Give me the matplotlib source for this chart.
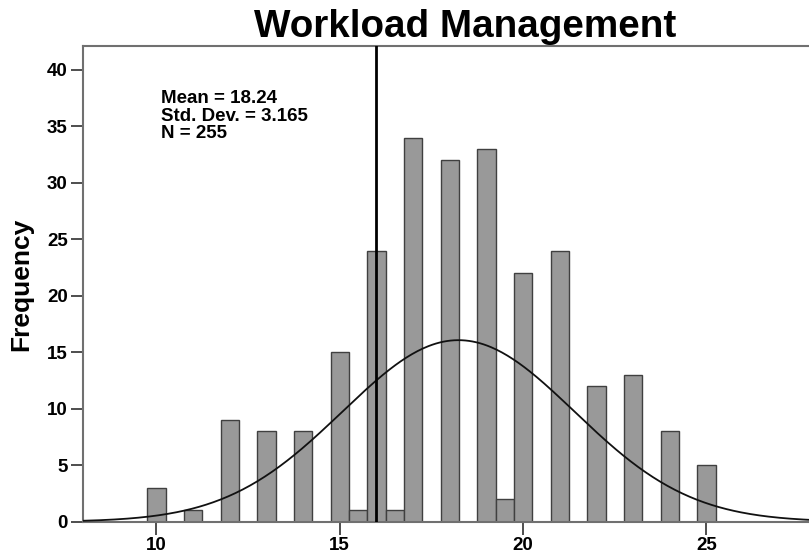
import numpy as np
from matplotlib import pyplot as plt

plt.rcParams['font.family'] = ['Liberation Sans', 'DejaVu Sans']

# histogram bins (centre value, bin width 0.5) and counts
bin_centers = [10, 11, 12, 13, 14, 15, 15.5, 16, 16.5, 17, 18, 19, 19.5, 20, 21, 22, 23, 24, 25]
counts = [3, 1, 9, 8, 8, 15, 1, 24, 1, 34, 32, 33, 2, 22, 24, 12, 13, 8, 5]
bin_width = 0.5

# summary statistics shown on the chart
mean = 18.24
std_dev = 3.165
n = 255
ref_line = 16

x_ticks = [10, 15, 20, 25]
y_ticks = [0, 5, 10, 15, 20, 25, 30, 35, 40]

fig = plt.figure(figsize=(8.09, 5.58), dpi=100)
ax = fig.add_axes([0.1026, 0.065, 0.8974, 0.8524])

ax.bar(bin_centers, counts, width=bin_width, color='#999999',
       edgecolor='#404040', linewidth=1.0, zorder=2)

# fitted normal curve, scaled to counts
xs = np.linspace(8, 28, 400)
ys = n * bin_width * np.exp(-0.5 * ((xs - mean) / std_dev) ** 2) / (std_dev * np.sqrt(2 * np.pi))
ax.plot(xs, ys, color='#111111', linewidth=1.3, zorder=3)

ax.axvline(ref_line, color='black', linewidth=2.0, zorder=4)

ax.set_xlim(8, 27.8)
ax.set_ylim(0, 42.1)
ax.set_xticks(x_ticks)
ax.set_yticks(y_ticks)
ax.tick_params(direction='out', length=9, width=1.3, color='#404040',
               labelsize=13.5, pad=2)
for lab in ax.get_xticklabels() + ax.get_yticklabels():
    lab.set_fontweight('bold')

for side in ['left', 'top', 'bottom', 'right']:
    ax.spines[side].set_color('#707070')
    ax.spines[side].set_linewidth(1.5)
ax.spines['right'].set_visible(False)

stats = ['Mean = %.2f' % mean, 'Std. Dev. = %.3f' % std_dev, 'N = %d' % n]
for i, line in enumerate(stats):
    ax.text(0.107, 0.881 - i * 0.0375, line, transform=ax.transAxes,
            fontsize=13.5, fontweight='bold', va='baseline')

ax.set_ylabel('Frequency', fontsize=19, fontweight='bold', labelpad=10)
fig.text(465 / 809, 1 - 37 / 558, 'Workload Management', fontsize=27.8,
         fontweight='bold', ha='center', va='baseline')

fig.savefig('out.png', dpi=100)
